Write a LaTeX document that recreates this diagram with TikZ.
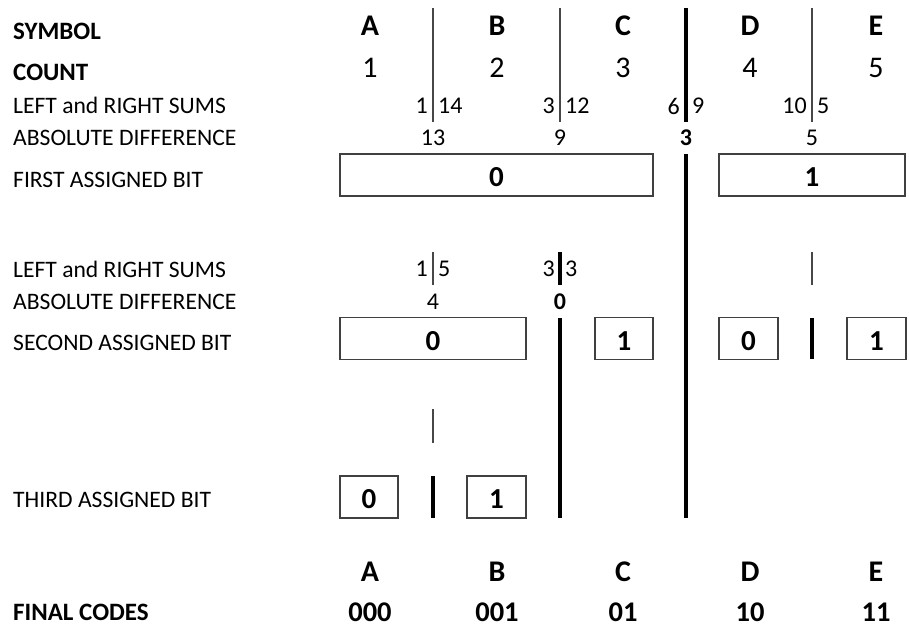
\documentclass[tikz,border=0pt]{standalone}
\usepackage{fontspec}
\setmainfont{Carlito}
\begin{document}
\begin{tikzpicture}[x=1pt,y=-1pt,
  lbl/.style={anchor=west,inner sep=0pt,font=\fontsize{23.6}{27}\selectfont},
  blbl/.style={anchor=west,inner sep=0pt,font=\fontsize{25}{29}\selectfont\bfseries},
  sym/.style={inner sep=0pt,font=\fontsize{30}{34}\selectfont\bfseries},
  cnt/.style={inner sep=0pt,font=\fontsize{30}{34}\selectfont},
  sm/.style={inner sep=0pt,font=\fontsize{24}{28}\selectfont},
  smb/.style={inner sep=0pt,font=\fontsize{24}{28}\selectfont\bfseries},
  code/.style={inner sep=0pt,font=\fontsize{28.5}{32}\selectfont\bfseries},
  bitbox/.style={draw=black!75,line width=1.4pt,inner sep=0pt,minimum height=42pt,
    text height=23pt,text depth=0pt,font=\fontsize{29}{32}\selectfont\bfseries},
  thindiv/.style={draw=black!72,line width=1.6pt},
  thickdiv/.style={draw=black,line width=4pt}]
\useasboundingbox (0,0) rectangle (909,628);

% left labels
\node[blbl] (lSym) at (13,31) {SYMBOL};
\node[blbl] (lCnt) at (13,72) {COUNT};
\node[lbl] (lSum1) at (13,105) {LEFT and RIGHT SUMS};
\node[lbl] (lAbs1) at (13,138) {ABSOLUTE DIFFERENCE};
\node[lbl] (lBit1) at (13,180) {FIRST ASSIGNED BIT};
\node[lbl] (lSum2) at (13,269) {LEFT and RIGHT SUMS};
\node[lbl] (lAbs2) at (13,302) {ABSOLUTE DIFFERENCE};
\node[lbl] (lBit2) at (13,343) {SECOND ASSIGNED BIT};
\node[lbl] (lBit3) at (13,500) {THIRD ASSIGNED BIT};
\node[blbl] (lFin) at (13,612) {FINAL CODES};

% symbols and counts
\node[sym] (sA) at (370,26) {A};
\node[sym] (sB) at (497,26) {B};
\node[sym] (sC) at (623,26) {C};
\node[sym] (sD) at (750,26) {D};
\node[sym] (sE) at (876,26) {E};
\node[cnt] (cA) at (370,68) {1};
\node[cnt] (cB) at (497,68) {2};
\node[cnt] (cC) at (623,68) {3};
\node[cnt] (cD) at (750,68) {4};
\node[cnt] (cE) at (876,68) {5};

% dividers, first level
\draw[thindiv] (433,8) -- (433,122);
\draw[thindiv] (560,8) -- (560,122);
\draw[thickdiv] (686,8) -- (686,122);
\draw[thindiv] (812,8) -- (812,122);
\draw[thickdiv] (686,154) -- (686,518);

% sums, first level
\node[sm,anchor=east] (s1l) at (428,106) {1};
\node[sm,anchor=west] (s1r) at (438,106) {14};
\node[sm,anchor=east] (s2l) at (555,106) {3};
\node[sm,anchor=west] (s2r) at (565,106) {12};
\node[sm,anchor=east] (s3l) at (680,106) {6};
\node[sm,anchor=west] (s3r) at (692,106) {9};
\node[sm,anchor=east] (s4l) at (807,106) {10};
\node[sm,anchor=west] (s4r) at (817,106) {5};

% absolute differences, first level
\node[sm] (d1) at (433,138) {13};
\node[sm] (d2) at (560,138) {9};
\node[smb] (d3) at (686,138) {3};
\node[sm] (d4) at (812,138) {5};

% first assigned bit
\node[bitbox,minimum width=313pt] (b10) at (496.5,175) {0};
\node[bitbox,minimum width=186pt] (b11) at (812,175) {1};

% second level
\draw[thindiv] (433,252) -- (433,285);
\draw[thickdiv] (560,252) -- (560,285);
\draw[thindiv] (812,252) -- (812,285);
\node[sm,anchor=east] (t1l) at (428,269) {1};
\node[sm,anchor=west] (t1r) at (438,269) {5};
\node[sm,anchor=east] (t2l) at (555,269) {3};
\node[sm,anchor=west] (t2r) at (565,269) {3};
\node[sm] (e1) at (433,302) {4};
\node[smb] (e2) at (560,302) {0};

% second assigned bit
\node[bitbox,minimum width=186pt] (b20) at (433,338.5) {0};
\node[bitbox,minimum width=58pt] (b21) at (624,338.5) {1};
\node[bitbox,minimum width=59pt] (b22) at (748.5,338.5) {0};
\node[bitbox,minimum width=59pt] (b23) at (876.5,338.5) {1};
\draw[thickdiv] (560,318) -- (560,518);
\draw[thickdiv] (812,318) -- (812,359);

% third level
\draw[thindiv] (433,409) -- (433,443);
\node[bitbox,minimum width=58pt] (b30) at (369,497) {0};
\node[bitbox,minimum width=59pt] (b31) at (496.5,497) {1};
\draw[thickdiv] (433,476) -- (433,518);

% final codes
\node[sym] (fA) at (370,572) {A};
\node[sym] (fB) at (497,572) {B};
\node[sym] (fC) at (623,572) {C};
\node[sym] (fD) at (750,572) {D};
\node[sym] (fE) at (876,572) {E};
\node[code] (kA) at (370,612) {000};
\node[code] (kB) at (497,612) {001};
\node[code] (kC) at (623,612) {01};
\node[code] (kD) at (750,612) {10};
\node[code] (kE) at (876,612) {11};
\end{tikzpicture}
\end{document}
